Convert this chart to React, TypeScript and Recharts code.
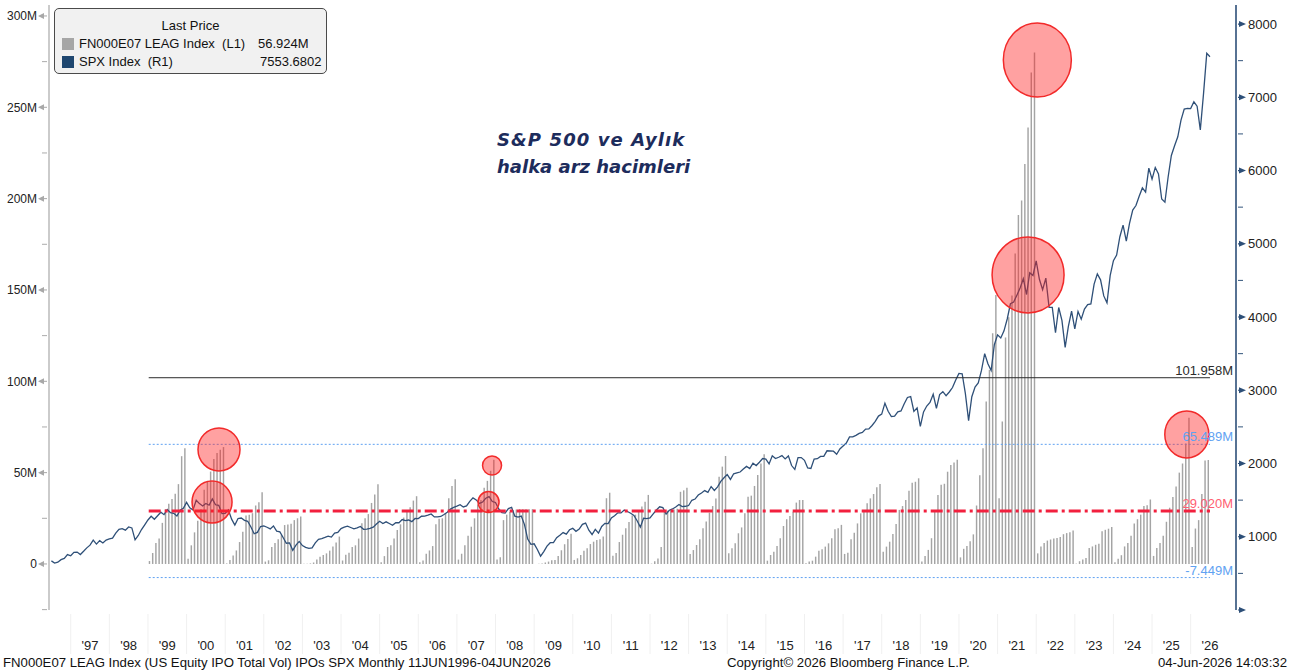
import React from 'react';
import { ComposedChart, Bar, Line, XAxis, YAxis, ReferenceLine, ReferenceDot } from 'recharts';

// ---------- DATA ----------
// S&P 500 monthly closes, Jun 1996 .. Jun 2026
const spxFirstYear = 1996;
const spxFirstMonth = 6; // June
const spxMonthlyClose: number[] = [
  // 1996 Jun-Dec
  670.6, 639.9, 652.0, 687.3, 705.3, 757.0, 740.7,
  // 1997
  786.2, 790.8, 757.1, 801.3, 848.3, 885.1, 954.3, 899.5, 947.3, 914.6, 955.4, 970.4,
  // 1998
  980.3, 1049.3, 1101.8, 1111.8, 1090.8, 1133.8, 1120.7, 957.3, 1017.0, 1098.7, 1163.6, 1229.2,
  // 1999
  1279.6, 1238.3, 1286.4, 1335.2, 1301.8, 1372.7, 1328.7, 1320.4, 1282.7, 1362.9, 1388.9, 1469.3,
  // 2000
  1394.5, 1366.4, 1498.6, 1452.4, 1420.6, 1454.6, 1430.8, 1517.7, 1436.5, 1429.4, 1315.2, 1320.3,
  // 2001
  1366.0, 1239.9, 1160.3, 1249.5, 1255.8, 1224.4, 1211.2, 1133.6, 1040.9, 1059.8, 1139.5, 1148.1,
  // 2002
  1130.2, 1106.7, 1147.4, 1076.9, 1067.1, 989.8, 911.6, 916.1, 815.3, 885.8, 936.3, 879.8,
  // 2003
  855.7, 841.2, 848.2, 916.9, 963.6, 974.5, 990.3, 1008.0, 996.0, 1050.7, 1058.2, 1111.9,
  // 2004
  1131.1, 1144.9, 1126.2, 1107.3, 1120.7, 1140.8, 1101.7, 1104.2, 1114.6, 1130.2, 1173.8, 1211.9,
  // 2005
  1181.3, 1203.6, 1180.6, 1156.9, 1191.5, 1191.3, 1234.2, 1220.3, 1228.8, 1207.0, 1249.5, 1248.3,
  // 2006
  1280.1, 1280.7, 1294.9, 1310.6, 1270.1, 1270.2, 1276.7, 1303.8, 1335.9, 1377.9, 1400.6, 1418.3,
  // 2007
  1438.2, 1406.8, 1420.9, 1482.4, 1530.6, 1503.4, 1455.3, 1474.0, 1526.8, 1549.4, 1481.1, 1468.4,
  // 2008
  1378.6, 1330.6, 1322.7, 1385.6, 1400.4, 1280.0, 1267.4, 1282.8, 1166.4, 968.8, 896.2, 903.3,
  // 2009
  825.9, 735.1, 797.9, 872.8, 919.1, 919.3, 987.5, 1020.6, 1057.1, 1036.2, 1095.6, 1115.1,
  // 2010
  1073.9, 1104.5, 1169.4, 1186.7, 1089.4, 1030.7, 1101.6, 1049.3, 1141.2, 1183.3, 1180.6, 1257.6,
  // 2011
  1286.1, 1327.2, 1325.8, 1363.6, 1345.2, 1320.6, 1292.3, 1218.9, 1131.4, 1253.3, 1247.0, 1257.6,
  // 2012
  1312.4, 1365.7, 1408.5, 1397.9, 1310.3, 1362.2, 1379.3, 1406.6, 1440.7, 1412.2, 1416.2, 1426.2,
  // 2013
  1498.1, 1514.7, 1569.2, 1597.6, 1630.7, 1606.3, 1685.7, 1633.0, 1681.6, 1756.5, 1805.8, 1848.4,
  // 2014
  1782.6, 1859.5, 1872.3, 1884.0, 1923.6, 1960.2, 1930.7, 2003.4, 1972.3, 2018.1, 2067.6, 2058.9,
  // 2015
  1995.0, 2104.5, 2067.9, 2085.5, 2107.4, 2063.1, 2103.8, 1972.2, 1920.0, 2079.4, 2080.4, 2043.9,
  // 2016
  1940.2, 1932.2, 2059.7, 2065.3, 2097.0, 2098.9, 2173.6, 2171.0, 2168.3, 2126.2, 2198.8, 2238.8,
  // 2017
  2278.9, 2363.6, 2362.7, 2384.2, 2411.8, 2423.4, 2470.3, 2471.7, 2519.4, 2575.3, 2647.6, 2673.6,
  // 2018
  2823.8, 2713.8, 2640.9, 2648.1, 2705.3, 2718.4, 2816.3, 2901.5, 2914.0, 2711.7, 2760.2, 2506.9,
  // 2019
  2704.1, 2784.5, 2834.4, 2945.8, 2752.1, 2941.8, 2980.4, 2926.5, 2976.7, 3037.6, 3141.0, 3230.8,
  // 2020
  3225.5, 2954.2, 2584.6, 2912.4, 3044.3, 3100.3, 3271.1, 3500.3, 3363.0, 3270.0, 3621.6, 3756.1,
  // 2021
  3714.2, 3811.2, 3972.9, 4181.2, 4204.1, 4297.5, 4395.3, 4522.7, 4307.5, 4605.4, 4567.0, 4766.2,
  // 2022
  4515.6, 4373.9, 4530.4, 4131.9, 4132.2, 3785.4, 4130.3, 3955.0, 3585.6, 3872.0, 4080.1, 3839.5,
  // 2023
  4076.6, 3970.2, 4109.3, 4169.5, 4179.8, 4450.4, 4589.0, 4507.7, 4288.1, 4193.8, 4567.8, 4769.8,
  // 2024
  4845.7, 5096.3, 5254.4, 5035.7, 5277.5, 5460.5, 5522.3, 5648.4, 5762.5, 5705.5, 6032.4, 5881.6,
  // 2025
  6040.5, 5954.5, 5611.9, 5569.1, 5911.7, 6205.0, 6339.4, 6460.3, 6688.5, 6840.2, 6849.1, 6845.5,
  // 2026 Jan-Jun
  6939.0, 6878.0, 6555.0, 7050.0, 7600.0, 7553.6802,
];

// US equity IPO total volume, cumulative year-to-date (millions), Jan 1999 .. Jun 2026
const ipoFirstYear = 1999;
const ipoYtdVolume: number[] = [
  // 1999
  1.6, 6.0, 11.5, 14.0, 22.5, 30.0, 33.0, 35.5, 38.5, 43.7, 59.0, 63.4,
  // 2000
  2.8, 10.2, 17.3, 23.6, 30.0, 40.6, 45.5, 50.6, 57.5, 60.7, 62.5, 64.0,
  // 2001
  0.3, 2.2, 4.6, 7.4, 12.0, 17.6, 26.5, 27.0, 27.8, 32.0, 33.8, 39.3,
  // 2002
  1.3, 2.0, 9.3, 11.5, 13.5, 15.8, 21.3, 21.6, 22.0, 24.0, 25.0, 26.0,
  // 2003
  0.1, 0.1, 0.3, 0.8, 2.5, 4.0, 4.9, 5.8, 7.3, 9.5, 11.7, 15.0,
  // 2004
  1.9, 5.0, 6.1, 9.3, 10.2, 13.9, 22.3, 25.0, 27.3, 33.4, 38.0, 43.6,
  // 2005
  1.0, 4.3, 9.3, 10.2, 13.9, 18.6, 21.7, 25.4, 28.8, 31.0, 34.7, 37.1,
  // 2006
  1.0, 1.9, 5.6, 7.4, 9.8, 21.7, 24.7, 25.0, 27.8, 36.0, 42.7, 46.4,
  // 2007
  2.4, 5.6, 10.2, 15.4, 20.4, 25.0, 32.5, 35.0, 41.7, 45.5, 51.0, 57.0,
  // 2008
  2.4, 3.7, 24.0, 27.0, 28.5, 29.5, 29.8, 30.0, 30.0, 30.0, 30.0, 30.0,
  // 2009
  0.0, 0.1, 0.2, 0.8, 1.3, 2.0, 2.2, 4.4, 7.5, 10.8, 13.7, 16.6,
  // 2010
  2.2, 3.1, 4.9, 7.3, 8.6, 10.9, 12.2, 13.1, 13.5, 15.0, 36.0, 39.0,
  // 2011
  4.5, 6.0, 12.0, 16.0, 19.5, 23.0, 26.5, 27.0, 28.5, 31.5, 34.0, 37.8,
  // 2012
  0.2, 1.5, 3.0, 9.3, 29.0, 29.2, 29.5, 29.8, 30.2, 39.5, 40.3, 41.7,
  // 2013
  5.4, 7.6, 10.4, 13.5, 19.6, 23.2, 28.1, 31.7, 35.9, 47.8, 53.3, 59.1,
  // 2014
  5.8, 8.6, 11.3, 16.8, 20.0, 27.7, 36.8, 37.4, 42.7, 48.7, 55.0, 60.0,
  // 2015
  1.8, 4.9, 6.7, 9.8, 14.1, 20.8, 24.5, 26.3, 28.6, 33.6, 35.0, 35.0,
  // 2016
  0.4, 1.3, 1.8, 4.0, 7.3, 8.0, 9.5, 11.3, 14.1, 19.0, 19.6, 21.4,
  // 2017
  5.5, 6.2, 13.5, 17.1, 22.2, 27.7, 29.6, 33.2, 35.9, 38.3, 42.0, 43.8,
  // 2018
  6.7, 9.5, 12.2, 16.4, 21.9, 29.6, 31.7, 35.0, 40.1, 44.5, 45.0, 46.9,
  // 2019
  1.3, 4.4, 7.7, 14.1, 29.6, 37.8, 43.3, 43.9, 50.5, 54.2, 55.5, 57.0,
  // 2020
  3.6, 8.3, 9.9, 12.4, 16.2, 32.0, 48.6, 63.3, 88.9, 106.3, 126.3, 147.3,
  // 2021
  36.0, 78.0, 124.0, 135.0, 147.0, 170.0, 191.0, 199.0, 219.0, 239.0, 269.0, 280.0,
  // 2022
  5.8, 9.6, 11.5, 12.8, 13.4, 14.0, 14.2, 14.8, 16.3, 16.9, 17.3, 18.3,
  // 2023
  0.2, 1.5, 2.5, 3.3, 8.7, 9.6, 10.5, 11.0, 17.9, 18.7, 19.3, 20.2,
  // 2024
  1.0, 2.9, 4.8, 9.6, 11.5, 15.4, 22.2, 24.5, 27.0, 31.8, 32.2, 35.3,
  // 2025
  4.4, 8.7, 11.5, 15.4, 23.1, 30.8, 36.6, 42.4, 50.0, 55.0, 66.0, 80.0,
  // 2026 Jan-Jun
  9.3, 19.4, 24.0, 38.3, 56.7, 56.924,
];

const yearLabels = ["'97", "'98", "'99", "'00", "'01", "'02", "'03", "'04", "'05", "'06", "'07", "'08", "'09", "'10", "'11", "'12", "'13", "'14", "'15", "'16", "'17", "'18", "'19", "'20", "'21", "'22", "'23", "'24", "'25", "'26"];
const firstLabelYear = 1997;
const leftTickValues = [-25, 0, 25, 50, 75, 100, 125, 150, 175, 200, 225, 250, 275, 300];
const rightTickValues = [0, 500, 1000, 1500, 2000, 2500, 3000, 3500, 4000, 4500, 5000, 5500, 6000, 6500, 7000, 7500, 8000];

// horizontal study levels (millions)
const levelValues = [101.958, 65.489, 29.02, -7.449];
const levelTexts = ['101.958M', '65.489M', '29.020M', '-7.449M'];
const levelStart = 1999.02;
const levelEnd = 2026.5;

// highlighted points (year, value on left axis)
const highlightYears = [2022.03, 2021.79, 2025.9, 2000.84, 2000.66, 2007.91, 2007.82];
const highlightValues = [275.9, 158.2, 70.9, 62.7, 33.9, 53.9, 33.9];

const titleLines = ['S&P 500 ve Aylık', 'halka arz hacimleri'];

// ---------- STYLE ----------
const highlightRadii = [[34, 37], [36, 38], [22, 23.5], [21, 21.5], [20, 21], [9.5, 9.5], [10.5, 10.5]];
const levelStyles = [
  { stroke: '#2b2b2b', width: 1, dash: undefined, text: '#2b2b2b' },
  { stroke: '#5fa2f2', width: 1, dash: '2 2', text: '#5fa2f2' },
  { stroke: '#f2203e', width: 3, dash: '12 4 3 4', text: '#ff5f72' },
  { stroke: '#5fa2f2', width: 1, dash: '2 2', text: '#5fa2f2' },
];
const FONT = '"Liberation Sans", Arial, sans-serif';
const X_MIN = 1996.438;
const X_MAX = 2027.174;

// ---------- BUILD ----------
const spxData = spxMonthlyClose.map((v, i) => {
  const idx = spxFirstMonth - 1 + i;
  const year = spxFirstYear + Math.floor(idx / 12);
  const month = idx % 12;
  return { t: year + (month + 1) / 12, spx: v };
});

const ipoData = ipoYtdVolume.map((v, i) => {
  const year = ipoFirstYear + Math.floor(i / 12);
  const month = i % 12;
  return { t: year + (month + 0.5) / 12, ipo: v };
});

const yearTicks = yearLabels.map((_, i) => firstLabelYear + i + 0.5);

const LeftTick = (props: any) => {
  const { x, y, payload } = props;
  const v = payload.value;
  const major = v >= 0 && v % 50 === 0;
  if (!major) {
    return <line x1={x - 5} y1={y} x2={x} y2={y} stroke="#ababab" strokeWidth={1} />;
  }
  return (
    <g>
      <polygon points={`${x - 9},${y} ${x - 3},${y - 3} ${x - 3},${y + 3}`} fill="#a8a8a8" />
      <line x1={x - 3} y1={y} x2={x} y2={y} stroke="#a8a8a8" strokeWidth={1} />
      <text x={x - 10} y={y} dy="0.36em" textAnchor="end" fontSize={12} fontFamily={FONT} fill="#222">
        {v === 0 ? '0' : `${v}M`}
      </text>
    </g>
  );
};

const RightTick = (props: any) => {
  const { x, y, payload } = props;
  const v = payload.value;
  const major = v % 1000 === 0;
  if (!major) {
    return <line x1={x} y1={y} x2={x + 5} y2={y} stroke="#33557c" strokeWidth={1} />;
  }
  return (
    <g>
      <line x1={x} y1={y} x2={x + 2} y2={y} stroke="#2d4f78" strokeWidth={1.2} />
      <polygon points={`${x + 1},${y - 3} ${x + 8},${y} ${x + 1},${y + 3}`} fill="#2d4f78" />
      {v > 0 && (
        <text x={x + 10} y={y} dy="0.36em" textAnchor="start" fontSize={13} fontFamily={FONT} fill="#222">
          {v}
        </text>
      )}
    </g>
  );
};

const YearTick = (props: any) => {
  const { x, y, payload } = props;
  const i = Math.round(payload.value - 0.5 - firstLabelYear);
  return (
    <g>
      <line x1={x - 19.3} x2={x - 19.3} y1={y + 2} y2={y + 42} stroke="#f0f0f0" />
      <text x={x} y={y + 33} dy="0.36em" textAnchor="middle" fontSize={13} fontFamily={FONT} fill="#222">
        {yearLabels[i]}
      </text>
    </g>
  );
};

export default function App() {
  return (
    <div style={{ position: 'absolute', left: 0, top: 0, width: 1293, height: 672, background: '#ffffff', overflow: 'hidden' }}>
      <ComposedChart width={1293} height={672} data={ipoData} margin={{ top: 5, right: 0, left: 0, bottom: 22 }}>
        <XAxis
          type="number"
          dataKey="t"
          domain={[X_MIN, X_MAX]}
          allowDataOverflow
          ticks={yearTicks}
          interval={0}
          tick={YearTick}
          tickLine={false}
          axisLine={false}
          tickSize={0}
          height={40}
        />
        <YAxis
          yAxisId="left"
          orientation="left"
          width={49}
          domain={[-25.2, 306]}
          allowDataOverflow
          ticks={leftTickValues}
          interval={0}
          tick={LeftTick}
          tickLine={false}
          tickSize={0}
          axisLine={{ stroke: '#a8a8a8', strokeWidth: 1.2 }}
        />
        <YAxis
          yAxisId="right"
          orientation="right"
          width={57}
          domain={[0, 8260]}
          allowDataOverflow
          ticks={rightTickValues}
          interval={0}
          tick={RightTick}
          tickLine={false}
          tickSize={0}
          axisLine={{ stroke: '#2d4f78', strokeWidth: 1.6 }}
        />
        <Bar yAxisId="left" dataKey="ipo" fill="#a4a4a4" barSize={2} isAnimationActive={false} />
        <Line
          yAxisId="right"
          data={spxData}
          dataKey="spx"
          type="linear"
          stroke="#2f5078"
          strokeWidth={1.3}
          dot={false}
          activeDot={false}
          isAnimationActive={false}
        />
        {levelValues.map((v, i) => (
          <ReferenceLine
            key={`seg-${i}`}
            yAxisId="left"
            segment={[{ x: levelStart, y: v }, { x: levelEnd, y: v }]}
            stroke={levelStyles[i].stroke}
            strokeWidth={levelStyles[i].width}
            strokeDasharray={levelStyles[i].dash}
            ifOverflow="extendDomain"
          />
        ))}
        {levelValues.map((v, i) => (
          <ReferenceLine
            key={`lbl-${i}`}
            yAxisId="left"
            y={v}
            stroke="none"
            strokeOpacity={0}
            label={{
              value: levelTexts[i],
              position: 'insideBottomRight',
              offset: 3,
              fill: levelStyles[i].text,
              fontSize: 13,
              fontFamily: FONT,
            }}
          />
        ))}
        {highlightYears.map((x, i) => (
          <ReferenceDot
            key={`hl-${i}`}
            yAxisId="left"
            x={x}
            y={highlightValues[i]}
            r={highlightRadii[i][0]}
            shape={(p: any) => (
              <ellipse
                cx={p.cx}
                cy={p.cy}
                rx={highlightRadii[i][0]}
                ry={highlightRadii[i][1]}
                fill="#ff1f1f"
                fillOpacity={0.42}
                stroke="#f22a2a"
                strokeWidth={1.5}
              />
            )}
          />
        ))}
      </ComposedChart>

      {/* legend */}
      <div
        style={{
          position: 'absolute', left: 54, top: 8, width: 273, height: 66, boxSizing: 'border-box',
          border: '1px solid #4a4a4a', borderRadius: 5, background: '#f1f1f1',
          fontFamily: FONT, fontSize: 13, color: '#111', lineHeight: '16px',
        }}
      >
        <div style={{ position: 'absolute', top: 9, left: 0, width: '100%', textAlign: 'center' }}>Last Price</div>
        <div style={{ position: 'absolute', top: 29, left: 7, width: 12, height: 12, background: '#a6a6a6' }} />
        <div style={{ position: 'absolute', top: 27, left: 24, whiteSpace: 'pre' }}>FN000E07 LEAG Index  (L1)</div>
        <div style={{ position: 'absolute', top: 27, left: 203, whiteSpace: 'pre' }}>56.924M</div>
        <div style={{ position: 'absolute', top: 47, left: 7, width: 12, height: 12, background: '#1f4770' }} />
        <div style={{ position: 'absolute', top: 45, left: 24, whiteSpace: 'pre' }}>SPX Index  (R1)</div>
        <div style={{ position: 'absolute', top: 45, left: 205, whiteSpace: 'pre' }}>7553.6802</div>
      </div>

      {/* title */}
      <div
        style={{
          position: 'absolute', left: 497, top: 126, fontFamily: '"DejaVu Sans", Verdana, sans-serif',
          fontWeight: 'bold', fontStyle: 'italic', fontSize: 18, lineHeight: '27px', color: '#1d2c5c', whiteSpace: 'pre',
        }}
      >
        <div style={{ letterSpacing: 1.1 }}>{titleLines[0]}</div>
        <div>{titleLines[1]}</div>
      </div>

      {/* footer */}
      <div style={{ position: 'absolute', left: 3, top: 655, fontFamily: FONT, fontSize: 13.2, color: '#111', whiteSpace: 'pre' }}>
        FN000E07 LEAG Index (US Equity IPO Total Vol) IPOs SPX Monthly 11JUN1996-04JUN2026
      </div>
      <div style={{ position: 'absolute', left: 727, top: 655, fontFamily: FONT, fontSize: 13.2, color: '#111', whiteSpace: 'pre' }}>
        Copyright© 2026 Bloomberg Finance L.P.
      </div>
      <div style={{ position: 'absolute', right: 6, top: 655, fontFamily: FONT, fontSize: 13.2, color: '#111', whiteSpace: 'pre' }}>
        04-Jun-2026 14:03:32
      </div>
    </div>
  );
}
